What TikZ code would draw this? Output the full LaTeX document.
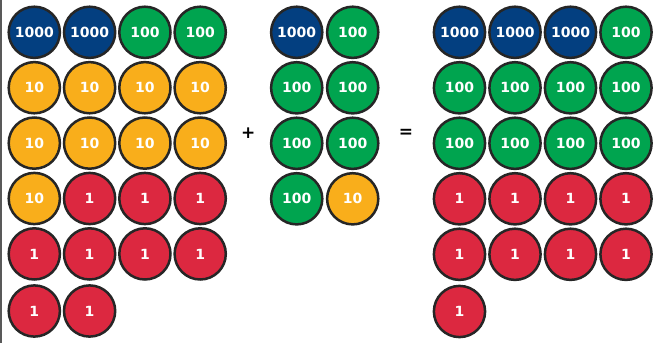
\documentclass[tikz,border=0pt]{standalone}
\usepackage{fontspec}
\setmainfont{DejaVu Sans}
\definecolor{thou}{HTML}{033F80}
\definecolor{hund}{HTML}{00A44F}
\definecolor{tens}{HTML}{F9AE1B}
\definecolor{ones}{HTML}{DC2840}
\definecolor{rim}{HTML}{262626}
\tikzset{
  disc/.style={circle, draw=rim, line width=2.5pt, minimum size=51.2pt, inner sep=0pt,
    text=white, font=\fontsize{14}{14}\selectfont\bfseries},
  d1000/.style={disc, fill=thou},
  d100/.style={disc, fill=hund},
  d10/.style={disc, fill=tens},
  d1/.style={disc, fill=ones},
  op/.style={font=\fontsize{17}{17}\selectfont\bfseries, text=black}
}
\begin{document}
\begin{tikzpicture}[x=1pt,y=-1pt]
\useasboundingbox (0,0) rectangle (656,343);
\fill[white] (0,0) rectangle (656,343);
\draw[line width=2pt, draw=black!65] (1,0) -- (1,343);
% first addend
\foreach \lab/\val/\c/\r in {
  a1/1000/1/1, a2/1000/2/1, a3/100/3/1, a4/100/4/1,
  a5/10/1/2, a6/10/2/2, a7/10/3/2, a8/10/4/2,
  a9/10/1/3, a10/10/2/3, a11/10/3/3, a12/10/4/3,
  a13/10/1/4, a14/1/2/4, a15/1/3/4, a16/1/4/4,
  a17/1/1/5, a18/1/2/5, a19/1/3/5, a20/1/4/5,
  a21/1/1/6, a22/1/2/6}{
  \pgfmathsetmacro{\xx}{34.3+55.3*(\c-1)}
  \pgfmathsetmacro{\yy}{\r<6 ? 32.3+55.4*(\r-1) : 311}
  \node[d\val] (\lab) at (\xx,\yy) {\val};
}
% second addend
\foreach \lab/\val/\c/\r in {
  b1/1000/1/1, b2/100/2/1,
  b3/100/1/2, b4/100/2/2,
  b5/100/1/3, b6/100/2/3,
  b7/100/1/4, b8/10/2/4}{
  \pgfmathsetmacro{\xx}{296.7+56*(\c-1)}
  \pgfmathsetmacro{\yy}{32.3+55.5*(\r-1)}
  \node[d\val] (\lab) at (\xx,\yy) {\val};
}
% sum
\foreach \lab/\val/\c/\r in {
  s1/1000/1/1, s2/1000/2/1, s3/1000/3/1, s4/100/4/1,
  s5/100/1/2, s6/100/2/2, s7/100/3/2, s8/100/4/2,
  s9/100/1/3, s10/100/2/3, s11/100/3/3, s12/100/4/3,
  s13/1/1/4, s14/1/2/4, s15/1/3/4, s16/1/4/4,
  s17/1/1/5, s18/1/2/5, s19/1/3/5, s20/1/4/5,
  s21/1/1/6}{
  \pgfmathsetmacro{\xx}{459.5+55.5*(\c-1)}
  \pgfmathsetmacro{\yy}{\r<6 ? 32.3+55.5*(\r-1) : 311.5}
  \node[d\val] (\lab) at (\xx,\yy) {\val};
}
\node[op] (plus) at (248.3,133.3) {+};
\node[op] (eq) at (406,133) {=};
\end{tikzpicture}
\end{document}
